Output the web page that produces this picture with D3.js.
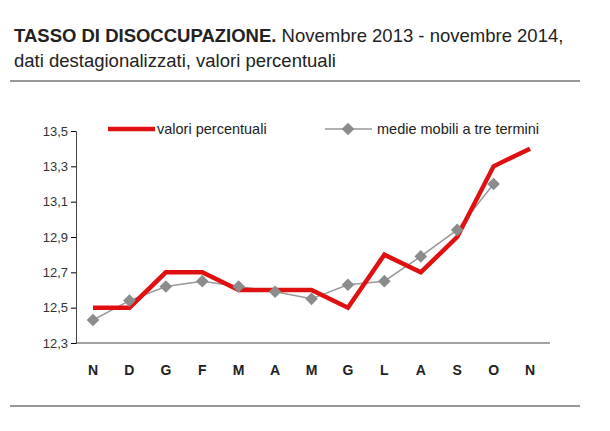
<!DOCTYPE html><html><head><meta charset="utf-8"><script src="https://cdn.jsdelivr.net/npm/d3@7"></script>
<style>body{margin:0;background:#fff}</style></head><body><svg width="610" height="431"></svg><script>
const months=["N","D","G","F","M","A","M","G","L","A","S","O","N"];
const valori=[12.5,12.5,12.7,12.7,12.6,12.6,12.6,12.5,12.8,12.7,12.9,13.3,13.4];
const medie=[12.43,12.54,12.62,12.65,12.62,12.59,12.55,12.63,12.65,12.79,12.94,13.2,null];
const ticks=[12.3,12.5,12.7,12.9,13.1,13.3,13.5];
const svg=d3.select("svg"),F="Liberation Sans, Arial, sans-serif";
const t=svg.append("text").attr("x",14).attr("y",42).attr("font-family",F).attr("font-size",18.5).attr("fill","#222");
t.append("tspan").attr("font-weight","bold").text("TASSO DI DISOCCUPAZIONE.");
t.append("tspan").text(" Novembre 2013 - novembre 2014,");
svg.append("text").attr("x",14).attr("y",67).attr("font-family",F).attr("font-size",18.5).attr("fill","#222").text("dati destagionalizzati, valori percentuali");
[81,406].forEach(y=>svg.append("line").attr("x1",10).attr("x2",580).attr("y1",y).attr("y2",y).attr("stroke","#333").attr("stroke-width",1.2));
const x=d3.scalePoint().domain(d3.range(13)).range([93,530]);
const y=d3.scaleLinear().domain([12.3,13.5]).range([343,131]);
const ya=svg.append("g").attr("transform","translate(76,0)").call(d3.axisLeft(y).tickValues(ticks).tickSize(5).tickFormat(d=>d3.format(".1f")(d).replace(".",",")));
ya.select(".domain").attr("stroke","#444");
ya.selectAll("text").attr("font-family",F).attr("font-size",13).attr("fill","#333");
svg.append("line").attr("x1",76).attr("x2",550).attr("y1",343).attr("y2",343).attr("stroke","#444");
svg.selectAll(".m").data(months).join("text").attr("x",(d,i)=>x(i)).attr("y",375).attr("text-anchor","middle").attr("font-family",F).attr("font-weight","bold").attr("font-size",14).attr("fill","#222").text(d=>d);
const line=d3.line().defined(d=>d!=null).x((d,i)=>x(i)).y(d=>y(d));
svg.append("path").attr("d",line(medie)).attr("fill","none").attr("stroke","#999").attr("stroke-width",1.5);
svg.append("path").attr("d",line(valori)).attr("fill","none").attr("stroke","#e01010").attr("stroke-width",4.5);
const sym=d3.symbol().type(d3.symbolSquare).size(80);
svg.selectAll(".d").data(medie.map((v,i)=>[v,i]).filter(d=>d[0]!=null)).join("path").attr("d",sym).attr("fill","#8c8c8c").attr("transform",d=>`translate(${x(d[1])},${y(d[0])}) rotate(45)`);
svg.append("line").attr("x1",108).attr("x2",155).attr("y1",129).attr("y2",129).attr("stroke","#e01010").attr("stroke-width",4.5);
svg.append("text").attr("x",157).attr("y",134).attr("font-family",F).attr("font-size",14.5).attr("fill","#222").text("valori percentuali");
svg.append("line").attr("x1",325).attr("x2",372).attr("y1",129).attr("y2",129).attr("stroke","#999").attr("stroke-width",1.5);
svg.append("path").attr("d",sym).attr("fill","#8c8c8c").attr("transform","translate(348,129) rotate(45)");
svg.append("text").attr("x",377).attr("y",134).attr("font-family",F).attr("font-size",14.5).attr("fill","#222").text("medie mobili a tre termini");
</script></body></html>
